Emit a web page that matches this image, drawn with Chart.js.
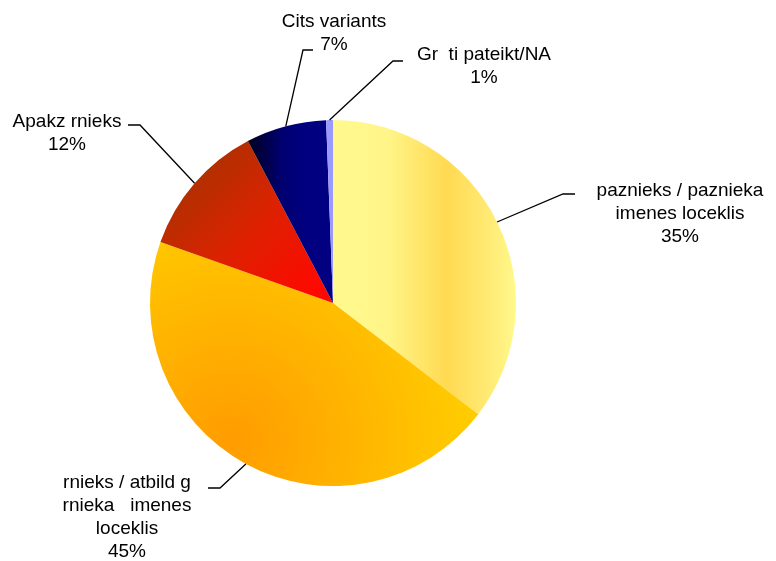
<!DOCTYPE html>
<html>
<head>
<meta charset="utf-8">
<script src="https://cdn.jsdelivr.net/npm/chart.js@4.4.1/dist/chart.umd.min.js"></script>
<style>
  html, body { margin: 0; padding: 0; background: #fff; }
  #wrap { width: 776px; height: 561px; position: relative; }
</style>
</head>
<body>
<div id="wrap"><canvas id="pie"></canvas></div>
<script>
"use strict";
// slice names as printed in the picture (some letters were lost in the original)
var categories = [
    ["paznieks / paznieka", "imenes loceklis"],
    ["rnieks / atbild g", "rnieka   imenes", "loceklis"],
    ["Apakz rnieks"],
    ["Cits variants"],
    ["Gr  ti pateikt/NA"]
];
// slice sizes estimated from the drawn angles, and the rounded percentages printed
var shares = [35.4, 45, 11.9, 7.1, 0.6];
var shareLabels = ["35%", "45%", "12%", "7%", "1%"];

// leader elbow / end / text centre, relative to the pie centre
var labelLayout = [
    {elbow: [230, -109], end: [242, -109], text: [347, -112]},
    {elbow: [-113, 185], end: [-125, 185], text: [-206, 180]},
    {elbow: [-193, -178], end: [-205, -178], text: [-266, -181]},
    {elbow: [-30, -253], end: [-20, -253], text: [1, -281]},
    {elbow: [60, -242], end: [70, -242], text: [151, -248]}
];

function sliceFill(context) {
    var chart = context.chart, area = chart.chartArea;
    var i = context.dataIndex;
    var flat = ["#FFF48A", "#FFC000", "#F01800", "#000080", "#9999FF"];
    if (!area) return flat[i];
    var c = chart.ctx;
    var cx = (area.left + area.right) / 2, cy = (area.top + area.bottom) / 2;
    var r = Math.min(area.right - area.left, area.bottom - area.top) / 2;
    var g;
    switch (i) {
        case 0:
            g = c.createLinearGradient(cx, cy, cx + r, cy);
            g.addColorStop(0, "#FFFA8E");
            g.addColorStop(0.3, "#FFF588");
            g.addColorStop(0.62, "#FFDA52");
            g.addColorStop(0.85, "#FFEA74");
            g.addColorStop(1, "#FFF98C");
            return g;
        case 1:
            g = c.createRadialGradient(cx - 0.55 * r, cy + 0.75 * r, 0, cx - 0.55 * r, cy + 0.75 * r, 1.3 * r);
            g.addColorStop(0, "#FF9C00");
            g.addColorStop(0.5, "#FFB400");
            g.addColorStop(1, "#FFCC00");
            return g;
        case 2:
            g = c.createLinearGradient(cx - 0.75 * r, cy - 0.7 * r, cx - 0.1 * r, cy - 0.05 * r);
            g.addColorStop(0, "#B03000");
            g.addColorStop(0.45, "#DC2200");
            g.addColorStop(1, "#FF0800");
            return g;
        case 3:
            g = c.createLinearGradient(cx - 0.48 * r, cy, cx - 0.15 * r, cy);
            g.addColorStop(0, "#000018");
            g.addColorStop(0.6, "#000070");
            g.addColorStop(1, "#000080");
            return g;
        default:
            return "#9999FF";
    }
}

var leaderLabels = {
    id: "leaderLabels",
    afterDatasetsDraw: function (chart) {
        var ctx = chart.ctx;
        var arcs = chart.getDatasetMeta(0).data;
        ctx.save();
        ctx.strokeStyle = "#000";
        ctx.lineWidth = 1.3;
        ctx.fillStyle = "#000";
        ctx.font = "19px 'Liberation Sans', Arial, sans-serif";
        ctx.textAlign = "center";
        ctx.textBaseline = "middle";
        arcs.forEach(function (arc, i) {
            var p = arc.getProps(["x", "y", "startAngle", "endAngle", "outerRadius"], true);
            var mid = (p.startAngle + p.endAngle) / 2;
            var lay = labelLayout[i];
            ctx.beginPath();
            ctx.moveTo(p.x + Math.cos(mid) * p.outerRadius, p.y + Math.sin(mid) * p.outerRadius);
            ctx.lineTo(p.x + lay.elbow[0], p.y + lay.elbow[1]);
            ctx.lineTo(p.x + lay.end[0], p.y + lay.end[1]);
            ctx.stroke();
            var lines = categories[i].concat([shareLabels[i]]);
            lines.forEach(function (t, k) {
                ctx.fillText(t, p.x + lay.text[0], p.y + lay.text[1] + k * 23);
            });
        });
        ctx.restore();
    }
};

new Chart(document.getElementById("pie").getContext("2d"), {
    type: "pie",
    data: {
        labels: categories.map(function (c) { return c.join(" "); }),
        datasets: [{
            data: shares,
            backgroundColor: sliceFill,
            borderWidth: 0
        }]
    },
    options: {
        responsive: true,
        maintainAspectRatio: false,
        animation: false,
        layout: {padding: {left: 150, right: 260, top: 120, bottom: 75}},
        plugins: {legend: {display: false}, tooltip: {enabled: false}}
    },
    plugins: [leaderLabels]
});
</script>
</body>
</html>
